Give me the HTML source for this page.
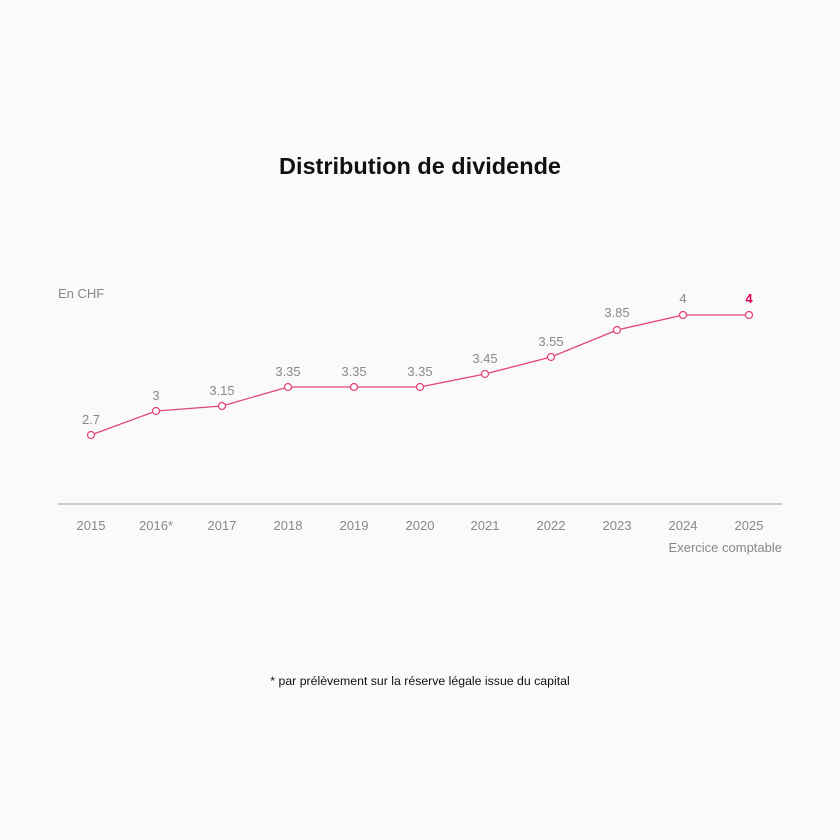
<!DOCTYPE html>
<html><head><style>
html,body{margin:0;padding:0;background:#fafafa;}
svg{display:block;font-family:"Liberation Sans",sans-serif;}
</style></head><body>
<svg width="840" height="840" viewBox="0 0 840 840">
<rect width="840" height="840" fill="#fafafa"/>
<text x="420" y="174" text-anchor="middle" font-size="23.5" font-weight="bold" fill="#111">Distribution de dividende</text>
<text x="58" y="298" font-size="13" fill="#888">En CHF</text>
<line x1="58" y1="504" x2="782" y2="504" stroke="#999" stroke-width="1"/>
<g font-size="13" fill="#888" text-anchor="middle">
<text x="91" y="530">2015</text><text x="156" y="530">2016*</text><text x="222" y="530">2017</text>
<text x="288" y="530">2018</text><text x="354" y="530">2019</text><text x="420" y="530">2020</text>
<text x="485" y="530">2021</text><text x="551" y="530">2022</text><text x="617" y="530">2023</text>
<text x="683" y="530">2024</text><text x="749" y="530">2025</text>
</g>
<text x="782" y="552" text-anchor="end" font-size="13" fill="#888">Exercice comptable</text>
<polyline fill="none" stroke="#e0457b" stroke-width="1.3" points="91,435 156,411 222,406 288,387 354,387 420,387 485,374 551,357 617,330 683,315 749,315"/>
<g fill="#fff" stroke="#e0457b" stroke-width="1.3">
<circle cx="91" cy="435" r="3.5"/><circle cx="156" cy="411" r="3.5"/><circle cx="222" cy="406" r="3.5"/>
<circle cx="288" cy="387" r="3.5"/><circle cx="354" cy="387" r="3.5"/><circle cx="420" cy="387" r="3.5"/>
<circle cx="485" cy="374" r="3.5"/><circle cx="551" cy="357" r="3.5"/><circle cx="617" cy="330" r="3.5"/>
<circle cx="683" cy="315" r="3.5"/><circle cx="749" cy="315" r="3.5"/>
</g>
<g font-size="13" fill="#888" text-anchor="middle">
<text x="91" y="424">2.7</text><text x="156" y="400">3</text><text x="222" y="395">3.15</text>
<text x="288" y="376">3.35</text><text x="354" y="376">3.35</text><text x="420" y="376">3.35</text>
<text x="485" y="363">3.45</text><text x="551" y="346">3.55</text><text x="617" y="317">3.85</text>
<text x="683" y="303">4</text>
</g>
<text x="749" y="303" text-anchor="middle" font-size="13" font-weight="bold" fill="#e2005a">4</text>
<text x="420" y="685" text-anchor="middle" font-size="12.3" fill="#111">* par prélèvement sur la réserve légale issue du capital</text>
</svg>
</body></html>
